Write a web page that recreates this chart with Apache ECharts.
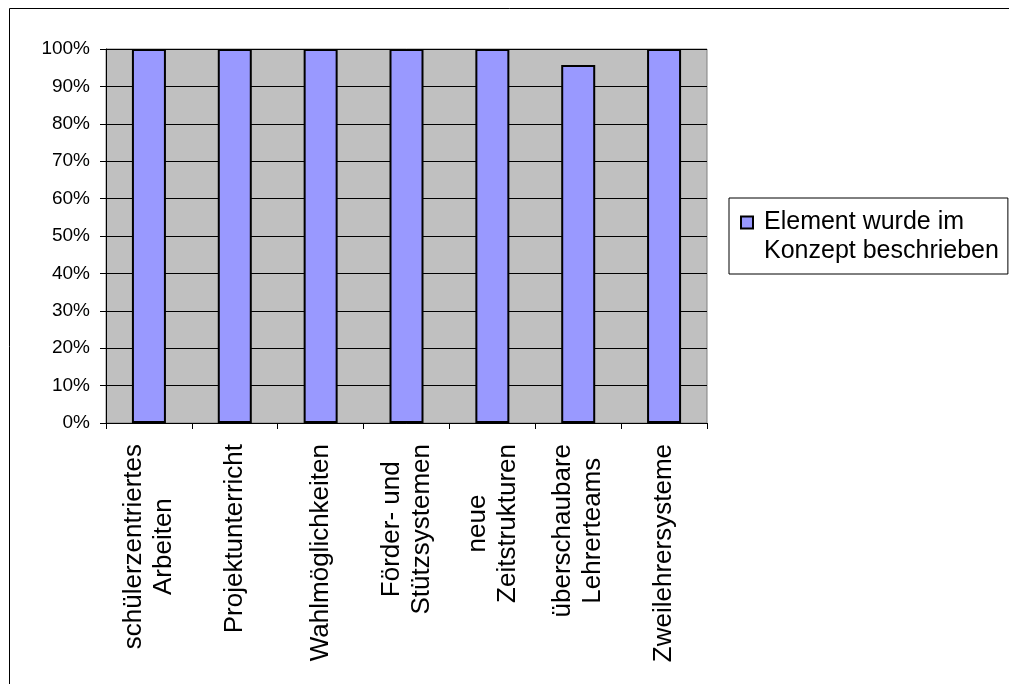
<!DOCTYPE html>
<html>
<head>
<meta charset="utf-8">
<script src="https://cdn.jsdelivr.net/npm/echarts@6/dist/echarts.min.js"></script>
<style>
  html, body { margin: 0; padding: 0; background: #fff; }
  #chart { width: 1009px; height: 684px; }
</style>
</head>
<body>
<div id="chart"></div>
<script>
// Categories (line breaks as shown under the axis)
const categories = [
  'schülerzentriertes\nArbeiten',
  'Projektunterricht',
  'Wahlmöglichkeiten',
  'Förder- und\nStützsystemen',
  'neue\nZeitstrukturen',
  'überschaubare\nLehrerteams',
  'Zweilehrersysteme'
];
// Share of concepts describing each element (%)
const described = [100, 100, 100, 100, 100, 95.7, 100];
const seriesName = 'Element wurde im\nKonzept beschrieben';
const yTicks = { min: 0, max: 100, step: 10 };

const FONT = "'Liberation Sans', Arial, sans-serif";

const chart = echarts.init(document.getElementById('chart'), null, { renderer: 'canvas' });

chart.setOption({
  animation: false,
  backgroundColor: '#ffffff',
  graphic: [{
    type: 'rect',
    shape: { x: 9.5, y: 8.5, width: 1200, height: 900 },
    style: { fill: 'none', stroke: '#000', lineWidth: 1 },
    silent: true,
    z: -10
  }],
  grid: {
    left: 106, top: 49, width: 601, height: 374,
    show: true,
    backgroundColor: '#C0C0C0',
    borderColor: '#808080',
    borderWidth: 1
  },
  legend: {
    left: 729, top: 198,
    orient: 'vertical',
    backgroundColor: '#fff',
    borderColor: '#000',
    borderWidth: 1,
    borderRadius: 0,
    padding: [9, 9, 7, 11],
    itemWidth: 18,
    itemHeight: 58,
    icon: 'path://M0,8.5L12,8.5L12,20.5L0,20.5Z M18,0 M18,58',
    selectedMode: false,
    textStyle: { fontFamily: FONT, fontSize: 25, lineHeight: 29, color: '#000' },
    data: [seriesName]
  },
  xAxis: {
    type: 'category',
    data: categories,
    boundaryGap: true,
    axisLine: { show: true, lineStyle: { color: '#000', width: 1 } },
    axisTick: { show: true, length: 6, alignWithLabel: false, lineStyle: { color: '#000' } },
    axisLabel: {
      interval: 0,
      rotate: 90,
      margin: 21,
      formatter: function (v) {
        return v.split('\n').map(function (l) { return '{c|' + l + '}'; }).join('\n');
      },
      rich: {
        c: { align: 'center', fontFamily: FONT, fontSize: 26, lineHeight: 30, color: '#000' }
      }
    },
    splitLine: { show: false }
  },
  yAxis: {
    type: 'value',
    min: yTicks.min, max: yTicks.max, interval: yTicks.step,
    axisLine: { show: true, lineStyle: { color: '#000', width: 1 } },
    axisTick: { show: true, length: 6, lineStyle: { color: '#000' } },
    axisLabel: {
      margin: 16,
      formatter: '{value}%',
      fontFamily: FONT, fontSize: 19, color: '#000'
    },
    splitLine: { show: true, lineStyle: { color: '#000', width: 1 } }
  },
  series: [{
    name: seriesName,
    type: 'bar',
    data: described,
    barWidth: 34,
    itemStyle: { color: '#9999FF', borderColor: '#000', borderWidth: 2 }
  }]
});
</script>
</body>
</html>
